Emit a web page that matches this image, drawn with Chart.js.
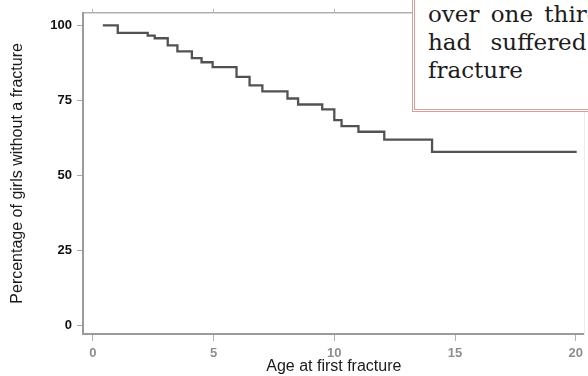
<!DOCTYPE html>
<html>
<head>
<meta charset="utf-8">
<script src="https://cdn.jsdelivr.net/npm/chart.js@4/dist/chart.umd.min.js"></script>
<style>
  html, body { margin: 0; padding: 0; background: #fff; overflow: hidden; }
  #wrap { position: relative; width: 588px; height: 376px; }
  #note {
    position: absolute;
    left: 412px;
    top: -3px;
    width: 240px;
    height: 115px;
    box-sizing: border-box;
    border: 3px double #d8a096;
    background: #fff;
    padding: 0 0 0 13px;
    font-family: "DejaVu Serif", serif;
    font-size: 23px;
    line-height: 28px;
    color: #1c1c1c;
    white-space: nowrap;
  }
</style>
</head>
<body>
<div id="wrap">
  <canvas id="chart" width="588" height="376"></canvas>
  <div id="note">
    <div style="word-spacing: 4px;">over one third of</div>
    <div style="word-spacing: 12px;">had suffered a</div>
    <div>fracture</div>
  </div>
</div>
<script>
// kaplan-meier style curve
const ages = [0.41, 1.03, 2.27, 2.56, 3.1, 3.5, 4.1, 4.5, 4.96, 5.95, 6.49, 7.02, 8.06, 8.5, 9.5, 10.0, 10.3, 11.0, 12.07, 14.05, 20.04];
const pctWithout = [100, 97.5, 96.6, 95.7, 93.3, 91.3, 89.1, 87.7, 86.1, 82.8, 80, 78, 75.6, 73.6, 72, 68.4, 66.4, 64.5, 61.9, 57.8, 57.8];

// tick labels
const xTicks = [0, 5, 10, 15, 20];
const yTicks = [0, 25, 50, 75, 100];

const axisGray = '#9a9a9a';

const points = ages.map((a, i) => ({ x: a, y: pctWithout[i] }));

const chart = new Chart(document.getElementById('chart').getContext('2d'), {
  type: 'line',
  data: {
    datasets: [{
      data: points,
      stepped: 'before',
      borderColor: '#525252',
      borderWidth: 2.3,
      pointRadius: 0,
      fill: false
    }]
  },
  options: {
    responsive: false,
    animation: false,
    layout: { padding: 0 },
    plugins: { legend: { display: false }, tooltip: { enabled: false } },
    scales: {
      x: {
        type: 'linear',
        position: 'bottom',
        min: -0.41,
        max: 20.37,
        afterBuildTicks: s => { s.ticks = xTicks.map(v => ({ value: v })); },
        afterFit: s => { s.height = 42; },
        grid: { drawOnChartArea: false, drawTicks: true, tickLength: 7, color: '#b0b0b0' },
        border: { display: true, color: axisGray, width: 2 },
        ticks: {
          padding: 5,
          color: '#8e8e8e',
          font: { family: 'Arial, "Liberation Sans", sans-serif', size: 13, weight: 'bold' },
          maxRotation: 0
        },
        title: {
          display: true,
          text: 'Age at first fracture',
          color: '#1a1a1a',
          padding: { top: 0, bottom: 0 },
          font: { family: 'Arial, "Liberation Sans", sans-serif', size: 16 }
        }
      },
      x2: {
        type: 'linear',
        axis: 'x',
        position: 'top',
        min: -0.41,
        max: 20.37,
        afterBuildTicks: s => { s.ticks = xTicks.map(v => ({ value: v })); },
        afterFit: s => { s.height = 10; },
        grid: { drawOnChartArea: false, drawTicks: true, tickLength: 4, color: '#b8b8b8' },
        border: { display: true, color: '#b0b0b0', width: 1.5 },
        ticks: { display: false }
      },
      y: {
        type: 'linear',
        position: 'left',
        min: -3,
        max: 104.2,
        afterBuildTicks: s => { s.ticks = yTicks.map(v => ({ value: v })); },
        afterFit: s => { s.width = 83; },
        grid: { drawOnChartArea: false, drawTicks: true, tickLength: 6, color: '#a8a8a8' },
        border: { display: true, color: axisGray, width: 2 },
        ticks: {
          padding: 5,
          color: '#111',
          font: { family: 'Arial, "Liberation Sans", sans-serif', size: 13, weight: 'bold' }
        },
        title: {
          display: true,
          text: 'Percentage of girls without a fracture',
          color: '#1a1a1a',
          padding: { top: 8, bottom: 0 },
          font: { family: 'Arial, "Liberation Sans", sans-serif', size: 16 }
        }
      },
      y2: {
        type: 'linear',
        axis: 'y',
        position: 'right',
        min: -3,
        max: 104.2,
        afterFit: s => { s.width = 2; },
        grid: { drawOnChartArea: false, drawTicks: false },
        border: { display: true, color: '#ececec', width: 1 },
        ticks: { display: false }
      }
    }
  }
});
</script>
</body>
</html>
